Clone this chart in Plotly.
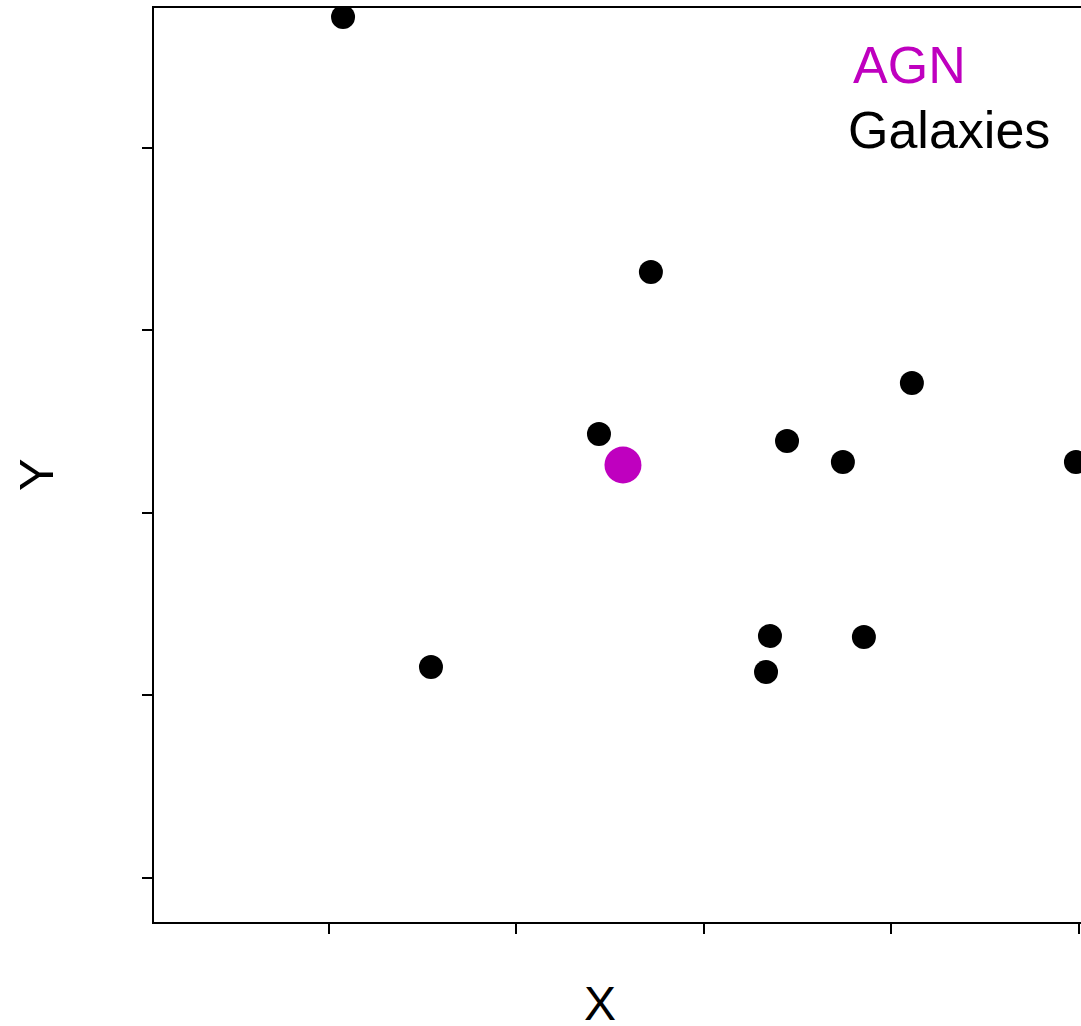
import plotly.graph_objects as go

# Galaxy positions around the AGN
galaxy_x = [1.075, 2.717, 4.109, 2.440, 3.443, 3.741, 4.984, 1.544, 3.352, 3.853, 3.331]
galaxy_y = [5.718, 4.321, 3.712, 3.433, 3.395, 3.279, 3.279, 2.156, 2.326, 2.321, 2.129]

agn_x = [2.568]
agn_y = [3.263]

x_ticks = [1, 2, 3, 4, 5]
y_ticks = [1, 2, 3, 4, 5]

MAGENTA = "#bf00bf"
FONT = "Liberation Sans, Arial, Helvetica, sans-serif"

fig = go.Figure()

fig.add_trace(go.Scatter(
    x=galaxy_x, y=galaxy_y, mode="markers", name="Galaxies",
    marker=dict(color="black", size=24, line=dict(width=0)),
    showlegend=False,
))
fig.add_trace(go.Scatter(
    x=agn_x, y=agn_y, mode="markers", name="AGN",
    marker=dict(color=MAGENTA, size=37, line=dict(width=0)),
    showlegend=False,
))

axis_common = dict(
    showgrid=False, zeroline=False, showline=True, linecolor="black",
    linewidth=2, ticks="outside", ticklen=10, tickwidth=2, tickcolor="black",
    showticklabels=False,
)

fig.update_xaxes(range=[0.0667, 5.011], tickvals=x_ticks, mirror=True, **axis_common)
fig.update_yaxes(range=[0.7589, 5.767], tickvals=y_ticks, mirror=False, **axis_common)

annotations = [
    dict(text="AGN", x=(851 - 154) / 927, y=(922 - 65) / 914, xref="paper", yref="paper",
         xanchor="left", yanchor="middle", showarrow=False,
         font=dict(family=FONT, size=52, color=MAGENTA)),
    dict(text="Galaxies", x=(846 - 154) / 927, y=(922 - 130) / 914, xref="paper", yref="paper",
         xanchor="left", yanchor="middle", showarrow=False,
         font=dict(family=FONT, size=52, color="black")),
    dict(text="X", x=(600 - 154) / 927, y=(922 - 1003) / 914, xref="paper", yref="paper",
         xanchor="center", yanchor="middle", showarrow=False,
         font=dict(family=FONT, size=48, color="black")),
    dict(text="Y", x=(36 - 154) / 927, y=(922 - 475) / 914, xref="paper", yref="paper",
         xanchor="center", yanchor="middle", showarrow=False, textangle=-90,
         font=dict(family=FONT, size=49, color="black")),
]

fig.update_layout(
    width=1081, height=1026,
    margin=dict(l=154, r=0, t=8, b=104),
    paper_bgcolor="white", plot_bgcolor="white",
    annotations=annotations,
)

fig.write_html("out.html")
